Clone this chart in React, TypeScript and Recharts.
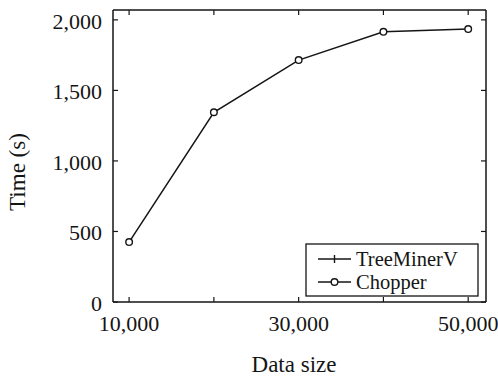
import { LineChart, Line, XAxis, YAxis } from 'recharts';

// values
const dataSizes = [10000, 20000, 30000, 40000, 50000];
const chopper = [425, 1345, 1715, 1915, 1935];
// TreeMinerV only appears in the legend, no visible points
const treeMinerV: (number | null)[] = [null, null, null, null, null];
const xTicks = [10000, 20000, 30000, 40000, 50000];
const xLabelled = [10000, 30000, 50000];
const yTicks = [0, 500, 1000, 1500, 2000];

const data = dataSizes.map((size, i) => ({
  size,
  chopper: chopper[i],
  treeMinerV: treeMinerV[i],
}));

const INK = '#151515';
const FONT = '"Liberation Serif", "Times New Roman", serif';
const FONT_SIZE = 22;
const TICK_LEN = 5;
const TS = 6; // recharts tick size, the tick props are offset by it
const fmt = (v: number) => v.toLocaleString('en-US');

// ticks point inwards, labels stay outside
function BottomTick({ x, y, payload }: any) {
  const ay = y - TS;
  return (
    <g>
      <line x1={x} y1={ay} x2={x} y2={ay - TICK_LEN} stroke={INK} strokeWidth={1.2} />
      {xLabelled.includes(payload.value) && (
        <text x={x} y={ay + 29} textAnchor="middle" fill={INK} fontFamily={FONT} fontSize={FONT_SIZE}>
          {fmt(payload.value)}
        </text>
      )}
    </g>
  );
}

function TopTick({ x, y }: any) {
  const ay = y + TS;
  return <line x1={x} y1={ay} x2={x} y2={ay + TICK_LEN} stroke={INK} strokeWidth={1.2} />;
}

function LeftTick({ x, y, payload }: any) {
  const ax = x + TS;
  return (
    <g>
      <line x1={ax} y1={y} x2={ax + TICK_LEN} y2={y} stroke={INK} strokeWidth={1.2} />
      <text x={ax - 11} y={y + 9} textAnchor="end" fill={INK} fontFamily={FONT} fontSize={FONT_SIZE}>
        {fmt(payload.value)}
      </text>
    </g>
  );
}

function RightTick({ x, y }: any) {
  const ax = x - TS;
  return <line x1={ax} y1={y} x2={ax - TICK_LEN} y2={y} stroke={INK} strokeWidth={1.2} />;
}

function YTitle() {
  return (
    <text
      x={25}
      y={172}
      transform="rotate(-90 25 172)"
      textAnchor="middle"
      fill={INK}
      fontFamily={FONT}
      fontSize={FONT_SIZE + 1}
    >
      Time (s)
    </text>
  );
}

function XTitle() {
  return (
    <text x={294} y={372} textAnchor="middle" fill={INK} fontFamily={FONT} fontSize={FONT_SIZE + 1}>
      Data size
    </text>
  );
}

function ChartLegend() {
  return (
    <svg width={174} height={54} style={{ position: 'absolute', left: 305, top: 243 }}>
      <rect x={1} y={1} width={172} height={52} fill="#fff" stroke={INK} strokeWidth={1.3} />
      <line x1={13} y1={16} x2={46} y2={16} stroke={INK} strokeWidth={1.4} />
      <line x1={29.5} y1={12} x2={29.5} y2={20} stroke={INK} strokeWidth={1.4} />
      <text x={51} y={23} fill={INK} fontFamily={FONT} fontSize={20.5}>TreeMinerV</text>
      <line x1={13} y1={39} x2={46} y2={39} stroke={INK} strokeWidth={1.4} />
      <circle cx={29.5} cy={39} r={3.3} fill="#fff" stroke={INK} strokeWidth={1.4} />
      <text x={51} y={46} fill={INK} fontFamily={FONT} fontSize={20.5}>Chopper</text>
    </svg>
  );
}

export default function App() {
  return (
    <div style={{ position: 'absolute', left: 0, top: 0, width: 498, height: 380, background: '#fff' }}>
      <LineChart width={498} height={380} data={data} margin={{ top: 9, right: 11, bottom: 18, left: 10 }}>
        <XAxis
          dataKey="size"
          type="number"
          domain={[8100, 52100]}
          ticks={xTicks}
          allowDataOverflow
          height={60}
          axisLine={{ stroke: INK, strokeWidth: 1.5 }}
          tickLine={false}
          tickSize={TS}
          tickMargin={0}
          tick={<BottomTick />}
          label={<XTitle />}
        />
        <XAxis
          xAxisId="top"
          orientation="top"
          dataKey="size"
          type="number"
          domain={[8100, 52100]}
          ticks={xTicks}
          allowDataOverflow
          height={1}
          axisLine={{ stroke: INK, strokeWidth: 1.5 }}
          tickLine={false}
          tickSize={TS}
          tickMargin={0}
          tick={<TopTick />}
        />
        <YAxis
          type="number"
          domain={[0, 2070]}
          ticks={yTicks}
          allowDataOverflow
          width={103}
          axisLine={{ stroke: INK, strokeWidth: 1.5 }}
          tickLine={false}
          tickSize={TS}
          tickMargin={0}
          tick={<LeftTick />}
          label={<YTitle />}
        />
        <YAxis
          yAxisId="right"
          orientation="right"
          type="number"
          domain={[0, 2070]}
          ticks={yTicks}
          allowDataOverflow
          width={1}
          axisLine={{ stroke: INK, strokeWidth: 1.5 }}
          tickLine={false}
          tickSize={TS}
          tickMargin={0}
          tick={<RightTick />}
        />
        <Line
          xAxisId="top"
          yAxisId="right"
          dataKey="treeMinerV"
          name="TreeMinerV"
          stroke={INK}
          strokeWidth={1.5}
          dot={false}
          isAnimationActive={false}
        />
        <Line
          dataKey="chopper"
          name="Chopper"
          stroke={INK}
          strokeWidth={1.5}
          dot={{ r: 3.3, fill: '#fff', stroke: INK, strokeWidth: 1.4 }}
          isAnimationActive={false}
        />
      </LineChart>
      <ChartLegend />
    </div>
  );
}
